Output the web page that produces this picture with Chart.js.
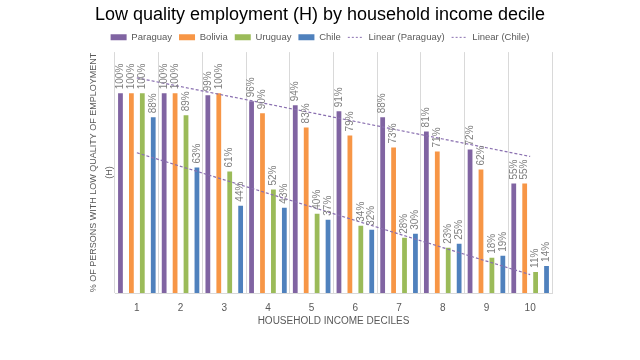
<!DOCTYPE html>
<html>
<head>
<meta charset="utf-8">
<script src="https://cdn.jsdelivr.net/npm/chart.js@4.4.0/dist/chart.umd.min.js"></script>
<style>
  html, body { margin: 0; padding: 0; background: #fff; }
  #wrap { width: 640px; height: 360px; }
</style>
</head>
<body>
<div id="wrap"><canvas id="barChart"></canvas></div>
<script>
// Datos (porcentaje por decil)
const deciles = ['1', '2', '3', '4', '5', '6', '7', '8', '9', '10'];
const paraguay = [100, 100, 99, 96, 94, 91, 88, 81, 72, 55];
const bolivia = [100, 100, 100, 90, 83, 79, 73, 71, 62, 55];
const uruguay = [100, 89, 61, 52, 40, 34, 28, 23, 18, 11];
const chile = [88, 63, 44, 43, 37, 32, 30, 25, 19, 14];

// Tendencia lineal (mínimos cuadrados) sobre los valores
function linearTrend(values) {
  const n = values.length;
  let sx = 0, sy = 0, sxy = 0, sxx = 0;
  values.forEach((v, i) => {
    const x = i + 1;
    sx += x; sy += v; sxy += x * v; sxx += x * x;
  });
  const slope = (n * sxy - sx * sy) / (n * sxx - sx * sx);
  const icpt = (sy - slope * sx) / n;
  return values.map((v, i) => icpt + slope * (i + 1));
}

const gray = '#595959';
const trendColor = '#8a70b0';
const font = '"Liberation Sans", Arial, sans-serif';

// Etiquetas de valor giradas encima de cada barra
const barLabels = {
  id: 'barLabels',
  afterDatasetsDraw(chart) {
    const ctx = chart.ctx;
    ctx.save();
    ctx.font = '10px ' + font;
    ctx.fillStyle = '#7f7f7f';
    ctx.textAlign = 'left';
    ctx.textBaseline = 'middle';
    chart.data.datasets.forEach((ds, i) => {
      if (ds.type === 'line') return;
      chart.getDatasetMeta(i).data.forEach((bar, j) => {
        ctx.save();
        ctx.translate(bar.x, bar.y - 3);
        ctx.rotate(-Math.PI / 2);
        ctx.fillText(ds.data[j] + '%', 0, 0);
        ctx.restore();
      });
    });
    ctx.restore();
  }
};

new Chart(document.getElementById('barChart'), {
  type: 'bar',
  data: {
    labels: deciles,
    datasets: [
      { label: 'Paraguay', data: paraguay, backgroundColor: '#8064A2', borderColor: '#ffffff', borderWidth: 1, order: 2 },
      { label: 'Bolivia', data: bolivia, backgroundColor: '#F79646', borderColor: '#ffffff', borderWidth: 1, order: 2 },
      { label: 'Uruguay', data: uruguay, backgroundColor: '#9BBB59', borderColor: '#ffffff', borderWidth: 1, order: 2 },
      { label: 'Chile', data: chile, backgroundColor: '#4F81BD', borderColor: '#ffffff', borderWidth: 1, order: 2 },
      { type: 'line', label: 'Linear (Paraguay)', data: linearTrend(paraguay), borderColor: trendColor, borderWidth: 1.2, borderDash: [3, 2], pointRadius: 0, fill: false, order: 1 },
      { type: 'line', label: 'Linear (Chile)', data: linearTrend(chile), borderColor: trendColor, borderWidth: 1.2, borderDash: [3, 2], pointRadius: 0, fill: false, order: 1 }
    ]
  },
  options: {
    responsive: true,
    maintainAspectRatio: false,
    animation: false,
    layout: { padding: { left: 0, right: 0, top: 4, bottom: 33 } },
    datasets: { bar: { categoryPercentage: 1.0, barPercentage: 0.62 } },
    plugins: {
      title: {
        display: true,
        text: 'Low quality employment (H) by household income decile',
        color: '#000000',
        font: { family: font, size: 18, weight: 'normal' },
        padding: { top: 0, bottom: 0 }
      },
      legend: {
        position: 'top',
        labels: {
          color: gray,
          font: { family: font, size: 9.5 },
          usePointStyle: true,
          pointStyleWidth: 16,
          boxHeight: 6,
          padding: 7,
          generateLabels(chart) {
            return chart.data.datasets.map((ds, i) => ds.type === 'line'
              ? { text: ds.label, datasetIndex: i, pointStyle: 'line', fillStyle: 'transparent', strokeStyle: trendColor, lineWidth: 1, lineDash: [2, 2], fontColor: gray }
              : { text: ds.label, datasetIndex: i, pointStyle: 'rect', fillStyle: ds.backgroundColor, strokeStyle: ds.backgroundColor, lineWidth: 0, fontColor: gray });
          }
        }
      },
      tooltip: { enabled: false }
    },
    scales: {
      x: {
        grid: { color: '#d9d9d9', drawTicks: false },
        border: { color: '#d9d9d9' },
        ticks: { color: gray, font: { family: font, size: 10 }, padding: 9 },
        title: {
          display: true,
          text: 'HOUSEHOLD INCOME DECILES',
          color: gray,
          font: { family: font, size: 10 },
          padding: { top: -8, bottom: 0 }
        }
      },
      y: {
        min: 0,
        max: 120,
        grid: { display: false },
        border: { display: false },
        ticks: { display: false },
        title: {
          display: true,
          text: ['% OF PERSONS WITH LOW QUALITY OF EMPLOYMENT', '(H)'],
          color: gray,
          font: { family: font, size: 9, lineHeight: 1.8 },
          padding: { top: 85, bottom: 0 }
        },
        afterFit(scale) { scale.width = 115; }
      },
      yRight: {
        position: 'right',
        grid: { display: false },
        border: { display: false },
        ticks: { display: false },
        afterFit(scale) { scale.width = 88; }
      }
    }
  },
  plugins: [barLabels]
});
</script>
</body>
</html>
